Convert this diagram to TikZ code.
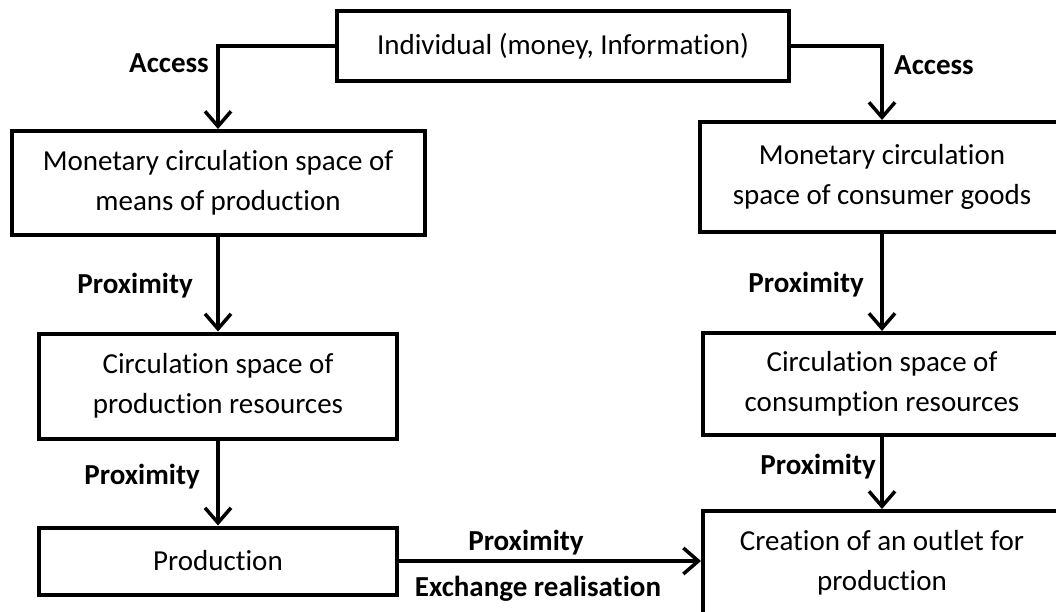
\documentclass[tikz,border=0pt]{standalone}
\usepackage{fontspec}
\setmainfont{Carlito}[Ligatures=CommonOff]
\usepackage{tikz}
\usetikzlibrary{calc, positioning, arrows.meta}

\begin{document}
\begin{tikzpicture}[x=1pt, y=-1pt,
    font=\fontsize{29}{40}\selectfont,
    box/.style={draw, line width=4pt, align=center, inner sep=0pt},
    lbl/.style={font=\fontsize{29}{40}\selectfont\bfseries, inner sep=0pt},
    arr/.style={line width=3.5pt, -{Straight Barb[length=15pt, width=26pt]}}]
  \useasboundingbox (0,0) rectangle (1056,612);

  % boxes
  \node[box, minimum width=452pt, minimum height=70pt] (indiv) at (563,46)
    {Individual (money, Information)};
  \node[box, minimum width=413pt, minimum height=104pt] (monprod) at (218,183)
    {Monetary circulation space of\\means of production};
  \node[box, minimum width=358pt, minimum height=105pt] (resprod) at (218,386)
    {Circulation space of\\production resources};
  \node[box, minimum width=358pt, minimum height=67pt] (prod) at (218,561)
    {Production};
  \node[box, minimum width=364pt, minimum height=110pt] (moncons) at (882,177)
    {Monetary circulation\\space of consumer goods};
  \node[box, minimum width=358pt, minimum height=102pt] (rescons) at (882,384)
    {Circulation space of\\consumption resources};
  \node[box, minimum width=358pt, minimum height=104pt] (outlet) at (882,563)
    {Creation of an outlet for\\production};

  % connectors
  \draw[arr] (indiv.west) -| (monprod.north);
  \draw[arr] (indiv.east) -| (moncons.north);
  \draw[arr] (monprod) -- (resprod);
  \draw[arr] (resprod) -- (prod);
  \draw[arr] (moncons) -- (rescons);
  \draw[arr] (rescons) -- (outlet);
  \draw[arr] (prod.east) -- (prod.east -| outlet.west);

  % labels
  \node[lbl, anchor=east] (accl) at (209,63) {Access};
  \node[lbl, anchor=west] (accr) at (894,65) {Access};
  \node[lbl, anchor=east] (px1) at (193,286) {Proximity};
  \node[lbl, anchor=east] (px2) at (200,477) {Proximity};
  \node[lbl, anchor=east] (px3) at (864,285) {Proximity};
  \node[lbl, anchor=east] (px4) at (876,467) {Proximity};
  \node[lbl] (px5) at (526,543) {Proximity};
  \node[lbl] (exch) at (538,589) {Exchange realisation};
\end{tikzpicture}
\end{document}
